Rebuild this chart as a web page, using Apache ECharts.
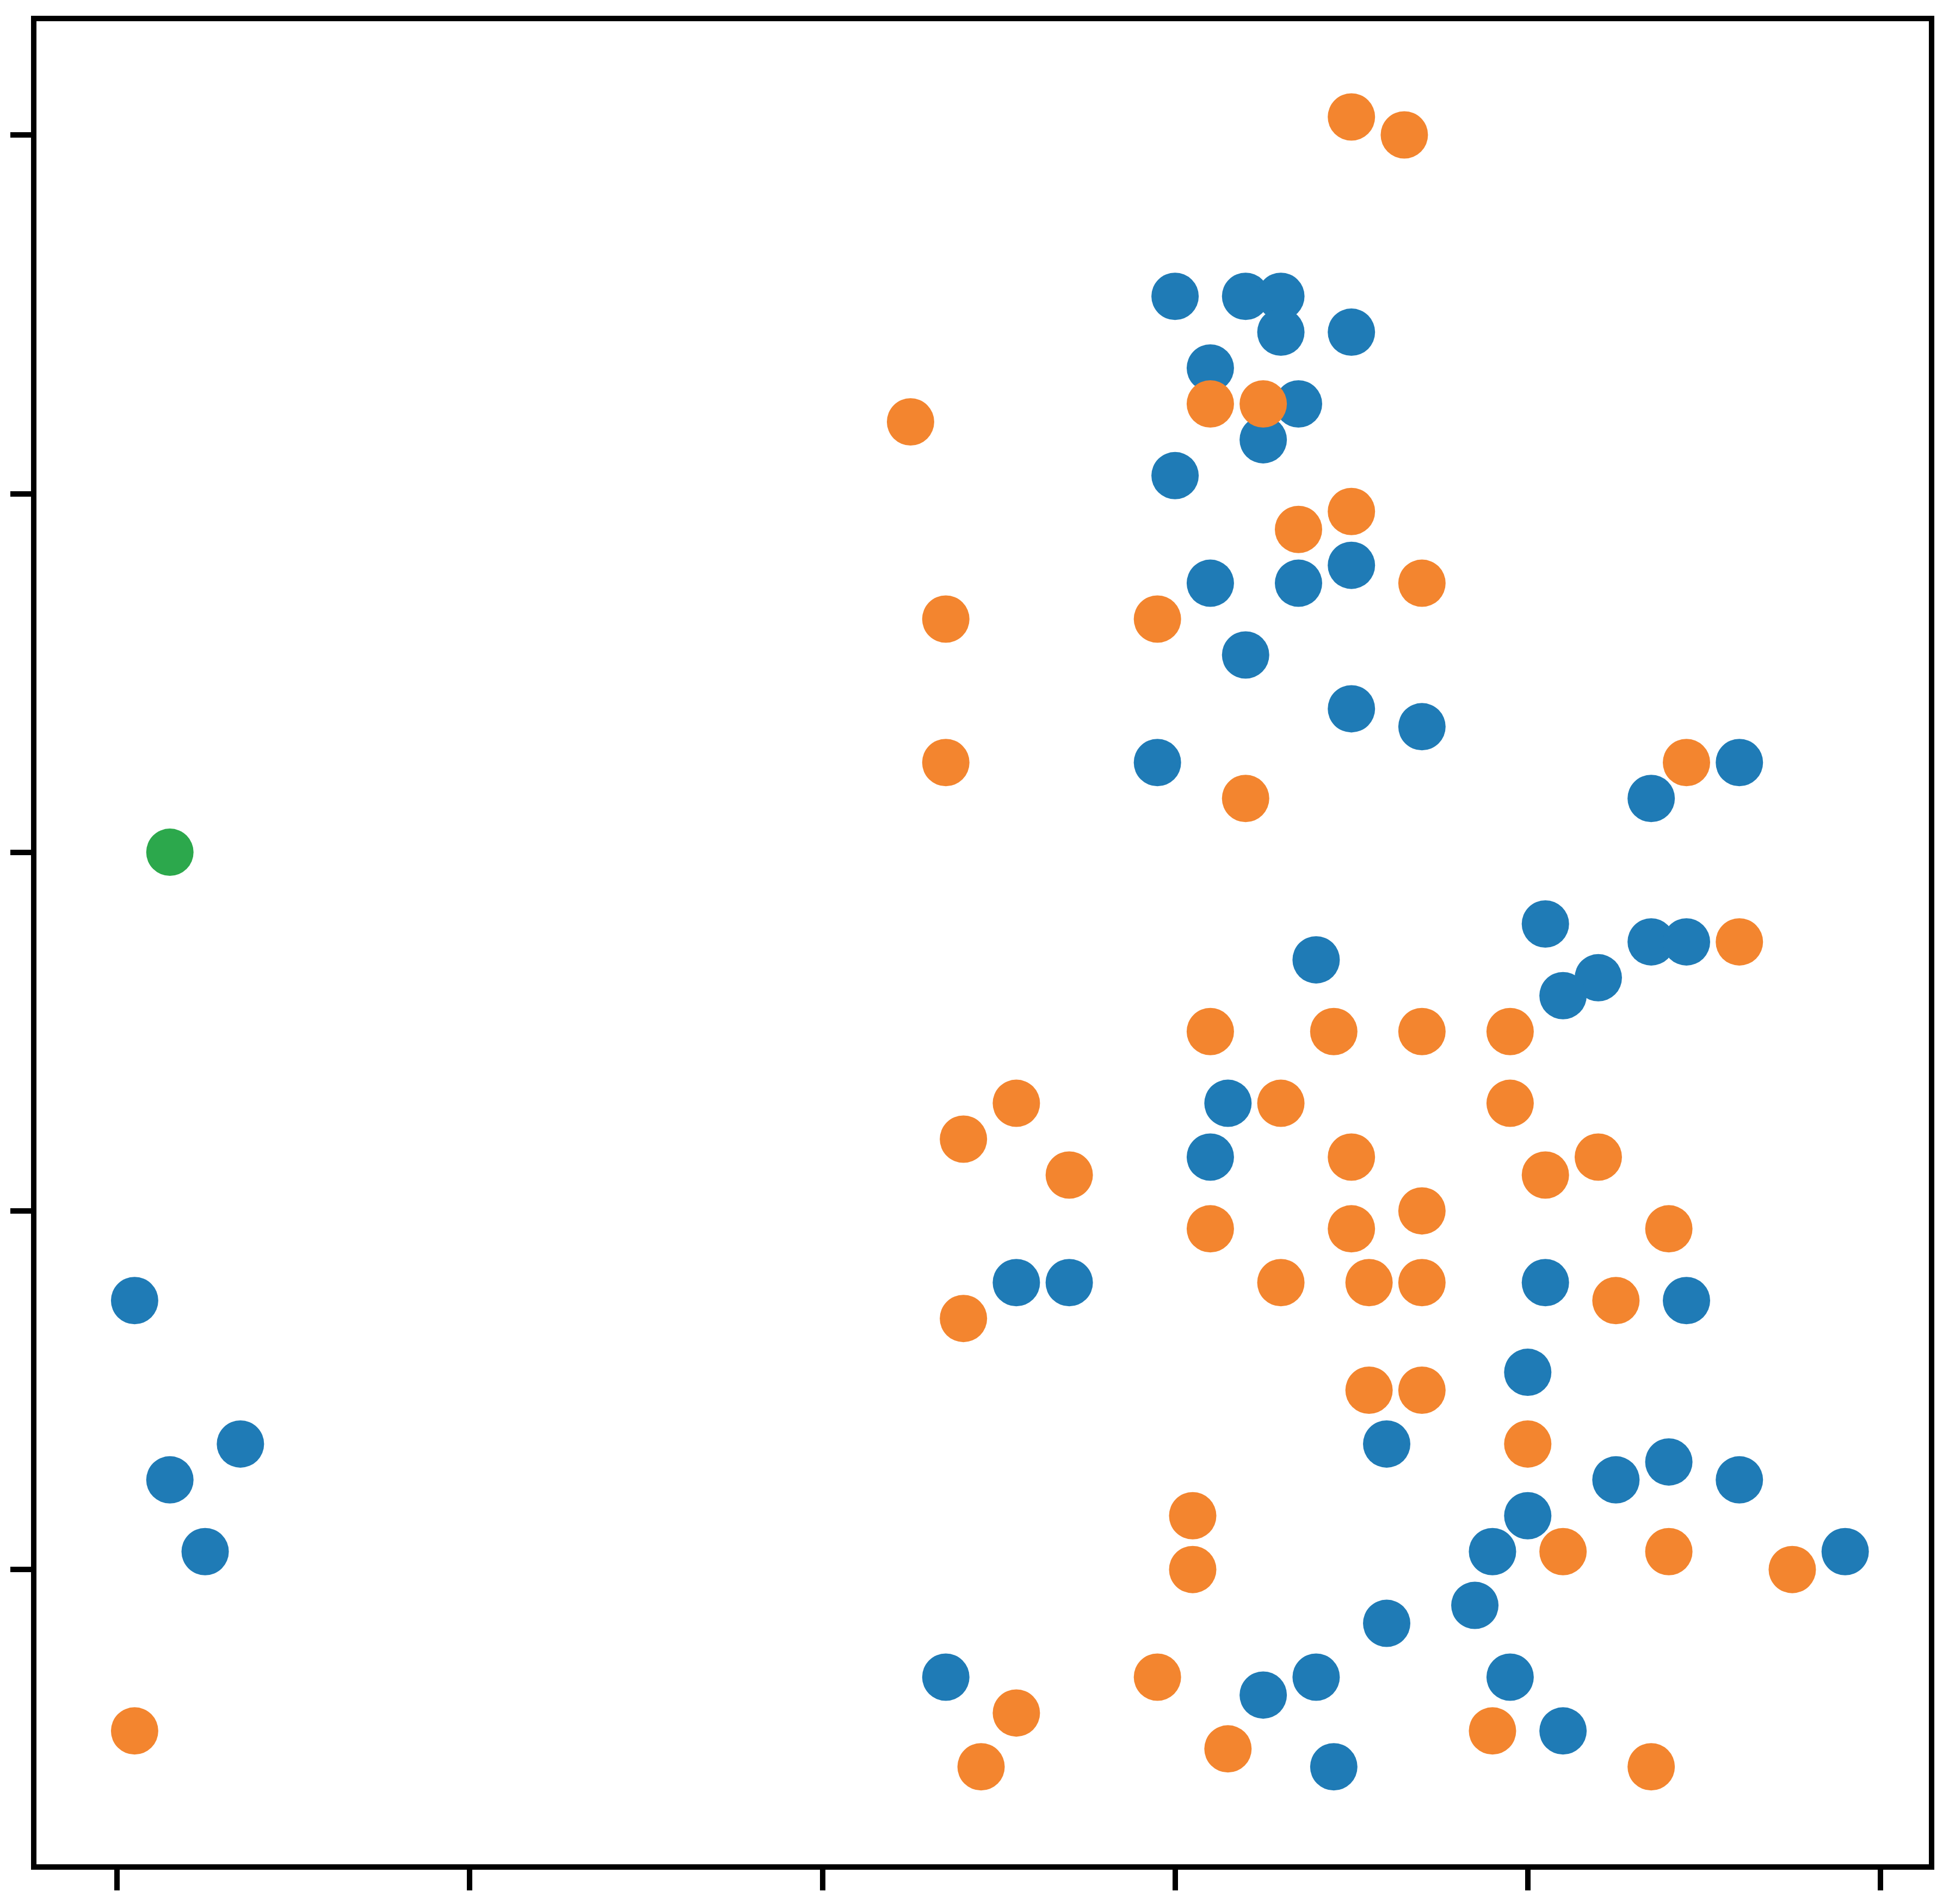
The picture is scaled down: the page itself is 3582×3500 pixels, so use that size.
<!DOCTYPE html>
<html>
<head>
<meta charset="utf-8">
<script src="https://cdn.jsdelivr.net/npm/echarts@6/dist/echarts.min.js"></script>
<style>
  html, body { margin: 0; padding: 0; background: #fff; }
</style>
</head>
<body>
<div id="main" style="width: 3582px; height: 3500px"></div>
<script>
// tick positions (no labels in the picture)
var xTicks = [0, 1, 2, 3, 4, 5];
var yTicks = [0, 1, 2, 3, 4];

// blue group
var blueX = [3.0, 3.2, 3.3, 3.3, 3.5, 3.1, 3.35, 3.25, 3.0, 3.5,
             3.1, 3.35, 3.2, 3.5, 3.7, 2.95, 4.6, 4.35, 4.05, 4.35,
             4.45, 3.4, 4.2, 4.1, 3.15, 3.1, 0.05, 2.55, 2.7, 4.05,
             4.45, 4.0, 0.35, 0.15, 3.6, 4.4, 4.25, 4.6, 4.0, 0.25,
             3.9, 4.9, 3.85, 3.6, 2.35, 3.4, 3.95, 3.25, 4.1, 3.45];
var blueY = [3.55, 3.55, 3.55, 3.45, 3.45, 3.35, 3.25, 3.15, 3.05, 2.8,
             2.75, 2.75, 2.55, 2.4, 2.35, 2.25, 2.25, 2.15, 1.8, 1.75,
             1.75, 1.7, 1.65, 1.6, 1.3, 1.15, 0.75, 0.8, 0.8, 0.8,
             0.75, 0.55, 0.35, 0.25, 0.35, 0.3, 0.25, 0.25, 0.15, 0.05,
             0.05, 0.05, -0.1, -0.15, -0.3, -0.3, -0.3, -0.35, -0.45, -0.55];

// orange group
var orangeX = [3.5, 3.65, 2.25, 3.1, 3.25, 3.5, 3.35, 3.7, 2.35, 2.95,
               2.35, 3.2, 4.45, 4.6, 3.1, 3.45, 3.7, 3.95, 2.55, 3.3,
               3.95, 2.4, 2.7, 3.5, 4.05, 4.2, 3.7, 3.1, 3.5, 4.4,
               3.3, 3.55, 3.7, 4.25, 2.4, 3.55, 3.7, 4.0, 3.05, 3.05,
               4.1, 4.4, 4.75, 2.95, 2.55, 0.05, 3.15, 3.9, 2.45, 4.35];
var orangeY = [4.05, 4.0, 3.2, 3.25, 3.25, 2.95, 2.9, 2.75, 2.65, 2.65,
               2.25, 2.15, 2.25, 1.75, 1.5, 1.5, 1.5, 1.5, 1.3, 1.3,
               1.3, 1.2, 1.1, 1.15, 1.1, 1.15, 1.0, 0.95, 0.95, 0.95,
               0.8, 0.8, 0.8, 0.75, 0.7, 0.5, 0.5, 0.35, 0.15, 0.0,
               0.05, 0.05, 0.0, -0.3, -0.4, -0.45, -0.5, -0.45, -0.55, -0.55];

// green single point
var greenX = [0.15];
var greenY = [2.0];

function pairs(xs, ys) {
  return xs.map(function (x, i) { return [x, ys[i]]; });
}

var tickStyle = { show: true, inside: false, length: 43, lineStyle: { color: '#000', width: 10 } };

var option = {
  animation: false,
  backgroundColor: '#fff',
  grid: {
    left: 62, top: 34, right: 32, bottom: 68,
    show: true,
    borderColor: '#000',
    borderWidth: 10
  },
  xAxis: {
    type: 'value',
    min: -0.236,
    max: 5.145,
    axisLine: { show: false, onZero: false },
    axisTick: Object.assign({ customValues: xTicks }, tickStyle),
    axisLabel: { show: false },
    splitLine: { show: false }
  },
  yAxis: {
    type: 'value',
    min: -0.8294,
    max: 4.3246,
    axisLine: { show: false, onZero: false },
    axisTick: Object.assign({ customValues: yTicks }, tickStyle),
    axisLabel: { show: false },
    splitLine: { show: false }
  },
  series: [
    {
      name: 'blue',
      type: 'scatter',
      symbolSize: 87,
      itemStyle: { color: '#1f7bb6', opacity: 1 },
      data: pairs(blueX, blueY)
    },
    {
      name: 'orange',
      type: 'scatter',
      symbolSize: 87,
      itemStyle: { color: '#f3852f', opacity: 1 },
      data: pairs(orangeX, orangeY)
    },
    {
      name: 'green',
      type: 'scatter',
      symbolSize: 87,
      itemStyle: { color: '#2ca84c', opacity: 1 },
      data: pairs(greenX, greenY)
    }
  ]
};

var myChart = echarts.init(document.getElementById('main'));
myChart.setOption(option);
</script>
</body>
</html>
